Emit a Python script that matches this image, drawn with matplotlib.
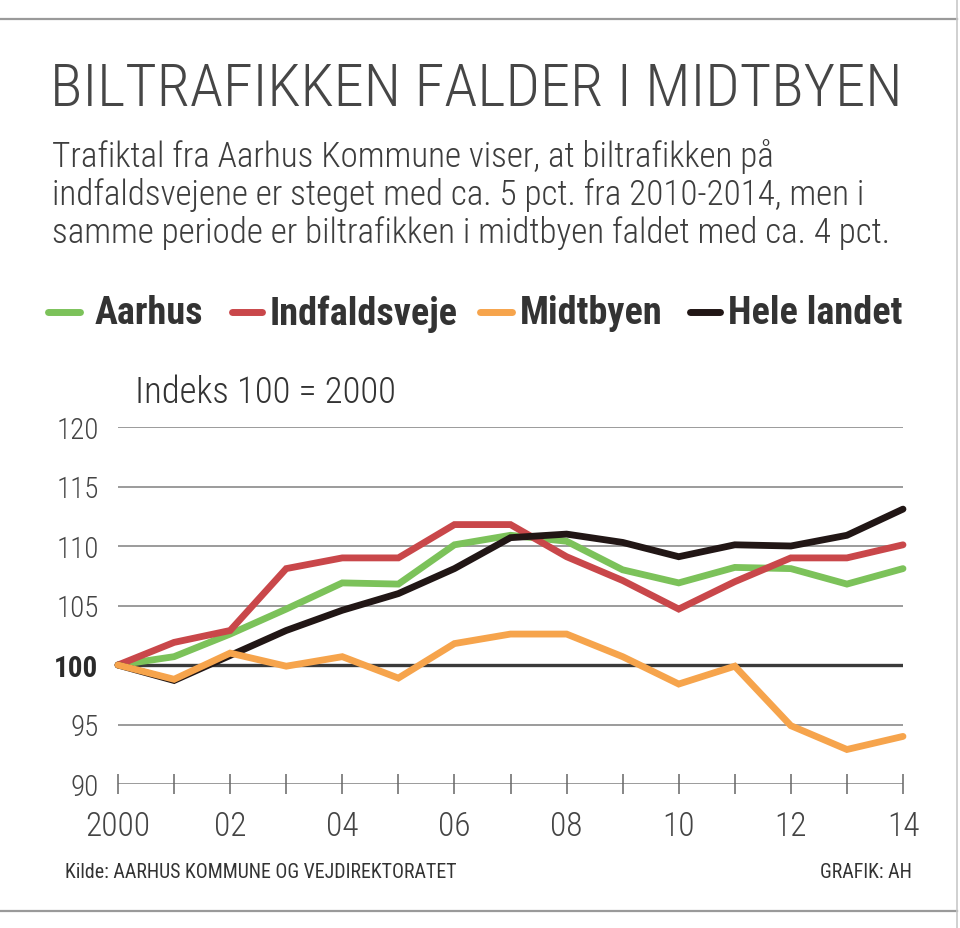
import matplotlib
matplotlib.use("Agg")
import matplotlib.pyplot as plt
from matplotlib import font_manager as fm
from matplotlib.lines import Line2D

# ---------------- data ----------------
years = list(range(2000, 2015))
aarhus = [100, 100.7, 102.6, 104.7, 106.9, 106.8, 110.1, 110.9, 110.4, 108.0, 106.9, 108.2, 108.1, 106.8, 108.1]
indfaldsveje = [100, 101.9, 102.9, 108.1, 109.0, 109.0, 111.8, 111.8, 109.1, 107.1, 104.7, 107.0, 109.0, 109.0, 110.1]
midtbyen = [100, 98.8, 101.0, 99.9, 100.7, 98.9, 101.8, 102.6, 102.6, 100.7, 98.4, 99.9, 94.9, 92.9, 94.0]
hele_landet = [100, 98.7, 100.8, 102.9, 104.6, 106.0, 108.1, 110.7, 111.0, 110.3, 109.1, 110.1, 110.0, 110.9, 113.1]

series_names = ["Aarhus", "Indfaldsveje", "Midtbyen", "Hele landet"]
series_colors = ["#7cc25a", "#c9474a", "#f6a44c", "#211615"]

y_ticks = [90, 95, 100, 105, 110, 115, 120]
x_ticks = [2000, 2002, 2004, 2006, 2008, 2010, 2012, 2014]
x_ticklabels = ["2000", "02", "04", "06", "08", "10", "12", "14"]

title = "BILTRAFIKKEN FALDER I MIDTBYEN"
subtitle = ["Trafiktal fra Aarhus Kommune viser, at biltrafikken på",
            "indfaldsvejene er steget med ca. 5 pct. fra 2010-2014, men i",
            "samme periode er biltrafikken i midtbyen faldet med ca. 4 pct."]
index_note = "Indeks 100 = 2000"
source = "Kilde: AARHUS KOMMUNE OG VEJDIREKTORATET"
credit = "GRAFIK: AH"

# ---------------- fonts ----------------
fl = fm.fontManager.ttflist
names = {f.name for f in fl}
cond = None
for cand in ["Roboto Condensed", "Liberation Sans Narrow", "Open Sans Condensed"]:
    if cand in names:
        cond = cand
        break
if cond is None and any(f.name == "DejaVu Sans" and f.stretch == "condensed" for f in fl):
    cond = "DejaVu Sans"
base = cond if cond else "Roboto"
stretch = "condensed" if cond == "DejaVu Sans" else "normal"

W, H = 960, 929
fig = plt.figure(figsize=(W / 100, H / 100), dpi=100)
fig.patch.set_facecolor("white")

def fx(px):
    return px / W

def fy(py):
    return 1 - py / H

TXT = "#3d3d3d"

# frame rules
fig.add_artist(Line2D([0, fx(957)], [fy(20), fy(20)], color="#9a9a9a", lw=1.6))
fig.add_artist(Line2D([0, fx(957)], [fy(912), fy(912)], color="#9a9a9a", lw=1.6))
fig.add_artist(Line2D([fx(957), fx(957)], [0, 1], color="#c8c8c8", lw=1.2))

fig.text(fx(50), fy(90), title, fontsize=43.5, family=base, fontstretch=stretch,
         fontweight="light", color="#464646", va="center", ha="left")
for i, line in enumerate(subtitle):
    fig.text(fx(52), fy(157 + i * 38), line, fontsize=25.3, family=base, fontstretch=stretch,
             fontweight="light", color=TXT, va="center", ha="left")

# legend
leg_x = [(48, 80, 95), (232, 262, 270), (480, 512, 520), (690, 720, 728)]
for (x0, x1, xt), nm, col in zip(leg_x, series_names, series_colors):
    fig.add_artist(Line2D([fx(x0), fx(x1)], [fy(313), fy(313)], color=col, lw=5,
                          solid_capstyle="round"))
    fig.text(fx(xt), fy(314), nm, fontsize=27.5, family=base, fontstretch=stretch,
             fontweight="bold", color="#333333", va="center", ha="left")

fig.text(fx(135), fy(393), index_note, fontsize=26.5, family=base, fontstretch=stretch,
         fontweight="light", color="#333333", va="center", ha="left")

# axes
ax = fig.add_axes([fx(118), fy(785), fx(903) - fx(118), fy(428) - fy(785)])
ax.set_xlim(2000, 2014)
ax.set_ylim(90, 120)
for s in ax.spines.values():
    s.set_visible(False)
ax.set_facecolor("none")

for yv in y_ticks:
    if yv == 100:
        ax.axhline(yv, color="#3a3a3a", lw=2.4, zorder=1)
    else:
        ax.axhline(yv, color="#8a8a8a", lw=1.2, zorder=1)

ax.set_yticks(y_ticks)
ax.set_yticklabels([str(v) for v in y_ticks])
ax.tick_params(axis="y", length=0, pad=14, labelsize=21, labelcolor="#444444")
for lbl in ax.get_yticklabels():
    lbl.set_family(base)
    lbl.set_fontstretch(stretch)
    lbl.set_fontweight("light")
    if lbl.get_text() == "100":
        lbl.set_fontweight("bold")
        lbl.set_color("#2a2a2a")

ax.set_xticks(years, minor=True)
ax.set_xticks(x_ticks)
ax.set_xticklabels(x_ticklabels)
ax.tick_params(axis="x", which="both", direction="inout", length=14, width=1.1,
               color="#666666", pad=12, labelsize=24, labelcolor="#444444")
for lbl in ax.get_xticklabels():
    lbl.set_family(base)
    lbl.set_fontstretch(stretch)
    lbl.set_fontweight("light")

data = [aarhus, indfaldsveje, hele_landet, midtbyen]
cols = [series_colors[0], series_colors[1], series_colors[3], series_colors[2]]
for z, (vals, col) in enumerate(zip(data, cols)):
    ax.plot(years, vals, color=col, lw=4.9, solid_joinstyle="miter",
            solid_capstyle="round", zorder=3 + z, clip_on=False)

fig.text(fx(65), fy(873), source, fontsize=14.3, family=base, fontstretch=stretch,
         color="#333333", va="center", ha="left")
fig.text(fx(912), fy(873), credit, fontsize=14.3, family=base, fontstretch=stretch,
         color="#333333", va="center", ha="right")

fig.savefig("out.png", dpi=100, facecolor="white")
